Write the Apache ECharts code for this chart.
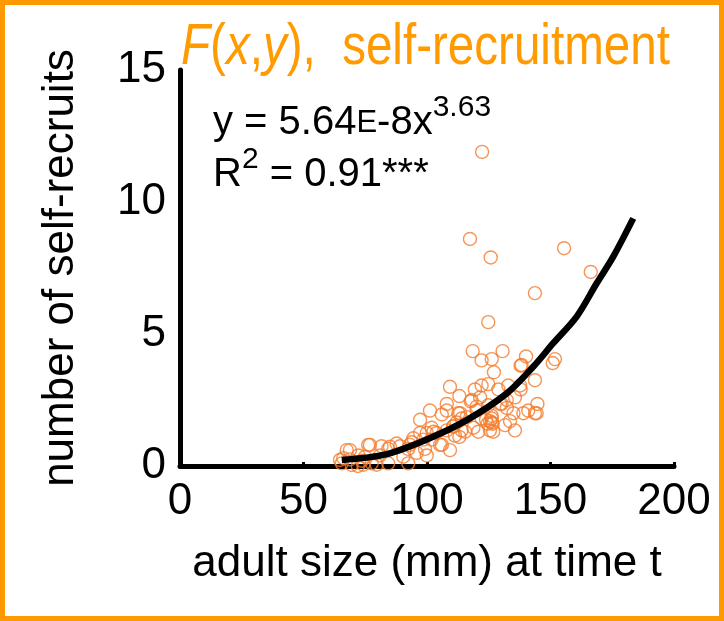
<!DOCTYPE html>
<html>
<head>
<meta charset="utf-8">
<script src="https://cdn.jsdelivr.net/npm/echarts@6/dist/echarts.min.js"></script>
<style>
html,body{margin:0;padding:0;background:#fff;}
#chart{width:724px;height:621px;}
</style>
</head>
<body>
<div id="chart"></div>
<script>
// Data
const xTicks = [0, 50, 100, 150, 200];
const yTicks = [0, 5, 10, 15];
const selfRecruits = [
  [122.3, 11.9], [117.4, 8.6], [125.8, 7.9], [155.5, 8.25], [166.3, 7.35],
  [143.7, 6.55], [124.8, 5.45], [118.5, 4.35], [130.6, 4.35], [122.1, 4.0],
  [126.2, 4.05], [140.1, 4.15], [137.9, 3.8], [151.8, 4.05], [150.9, 3.9],
  [127.1, 3.55], [109.3, 3.0], [119.4, 2.9], [122.1, 3.05], [124.8, 3.1],
  [132.9, 3.05], [143.7, 3.25], [137.9, 2.9], [113.1, 2.65], [121.5, 2.6],
  [117.7, 2.45], [108.0, 2.35], [124.8, 2.3], [132.3, 2.5], [135.6, 2.6],
  [144.7, 2.35], [141.0, 2.1], [143.7, 2.0], [132.3, 2.2], [135.0, 2.0],
  [133.6, 1.7], [135.6, 1.35], [125.5, 1.35], [123.9, 1.75], [126.2, 1.65],
  [101.2, 2.1], [106.0, 1.95], [97.2, 1.75], [113.4, 2.0], [116.1, 1.85],
  [112.0, 1.65], [101.9, 1.45], [108.0, 1.35], [111.3, 1.15], [113.1, 1.1],
  [118.8, 1.45], [97.2, 1.25], [93.8, 0.9], [106.0, 0.8], [109.3, 0.6],
  [99.2, 0.65], [95.8, 0.5], [89.1, 0.75], [87.7, 0.85], [84.3, 0.65],
  [81.6, 0.75], [76.9, 0.8], [68.8, 0.6], [66.1, 0.3], [65.5, 0.1],
  [72.2, 0.4], [74.2, 0.05], [77.6, 0.1], [81.0, 0.4], [84.3, 0.1],
  [92.4, 0.1], [79.6, 0.05], [74.9, 0.35], [93.1, 0.8], [101.9, 1.0],
  [103.9, 1.25], [122.1, 1.8], [120.1, 2.25], [129.6, 2.35], [128.9, 2.9],
  [137.7, 3.05], [114.0, 1.35], [110.7, 1.5], [99.9, 1.25], [68.8, 0.25],
  [73.6, 0.2], [118.1, 2.5], [108.0, 2.1], [112.7, 2.0], [114.0, 1.8],
  [120.1, 2.1], [126.2, 1.9], [110.6, 1.5], [102.6, 1.3], [98.5, 1.0],
  [94.5, 1.05], [92.4, 0.65], [90.4, 0.35], [99.9, 0.4], [105.3, 0.8],
  [115.4, 1.3], [120.8, 1.3], [130.2, 2.35], [144.4, 2.0], [139.0, 2.0],
  [131.6, 1.55], [126.8, 1.3], [126.2, 1.8], [124.5, 1.6], [125.5, 1.7],
  [126.5, 1.6], [64.8, 0.23], [67.5, 0.6], [69.5, 0.04], [72.0, 0.0],
  [76.2, 0.8], [85.0, 0.73], [138.3, 3.83]
];
const fitCurve = [
  [65.5, 0.23], [82.3, 0.42], [99.2, 0.98], [116.1, 1.74], [132.3, 2.75],
  [143.0, 3.76], [151.1, 4.65], [160.6, 5.66], [168.7, 6.92], [175.4, 7.93],
  [183.5, 9.38]
];
const titleText = 'self-recruitment';
const xName = 'adult size (mm) at time t';
const yName = 'number of self-recruits';

const chart = echarts.init(document.getElementById('chart'), null, {renderer: 'canvas'});
const font = 'Liberation Sans, Arial, sans-serif';
const orange = '#FF9A00';
chart.setOption({
  animation: false,
  backgroundColor: '#fff',
  grid: {left: 180, right: 50, top: 70, bottom: 155, containLabel: false},
  xAxis: {
    type: 'value', min: xTicks[0], max: xTicks[xTicks.length - 1], interval: 50,
    name: xName, nameLocation: 'middle', nameGap: 76,
    nameTextStyle: {fontFamily: font, fontSize: 44, color: '#000'},
    axisLine: {lineStyle: {color: '#000', width: 5}},
    axisTick: {show: true, inside: true, length: 4, lineStyle: {color: '#000', width: 3}},
    axisLabel: {fontFamily: font, fontSize: 44, color: '#000', margin: 14},
    splitLine: {show: false}
  },
  yAxis: {
    type: 'value', min: yTicks[0], max: yTicks[yTicks.length - 1], interval: 5,
    name: yName, nameLocation: 'middle', nameGap: 97, nameRotate: 90,
    nameTextStyle: {fontFamily: font, fontSize: 44, color: '#000'},
    axisLine: {lineStyle: {color: '#000', width: 5}},
    axisTick: {show: true, inside: true, length: 3, lineStyle: {color: '#000', width: 2}},
    axisLabel: {fontFamily: font, fontSize: 44, color: '#000', margin: 14},
    splitLine: {show: false}
  },
  graphic: [
    {
      type: 'rect', silent: true, z: 100,
      shape: {x: 2.5, y: 2.5, width: 719, height: 616},
      style: {fill: 'none', stroke: '#FF9900', lineWidth: 5}
    },
    {
      type: 'text', x: 181, y: 19, scaleX: 0.82, z: 100, silent: true,
      style: {
        text: '{i|F}{n|(}{i|x}{n|,}{i|y}{n|),  ' + titleText + '}',
        verticalAlign: 'top',
        fill: orange,
        rich: {
          i: {fontFamily: font, fontStyle: 'italic', fontSize: 58, fill: orange},
          n: {fontFamily: font, fontSize: 58, fill: orange}
        }
      }
    },
    {
      type: 'text', left: 213, top: 91, z: 100, silent: true,
      style: {
        text: '{n|y = 5.64}{s|E}{n|-8x}{p|3.63}\n{n|R}{p|2}{n| = 0.91***}',
        rich: {
          n: {fontFamily: font, fontSize: 40, fill: '#000', lineHeight: 52, verticalAlign: 'bottom'},
          s: {fontFamily: font, fontSize: 31, fill: '#000', lineHeight: 52, verticalAlign: 'bottom', padding: [0, 0, 4, 0]},
          p: {fontFamily: font, fontSize: 30, fill: '#000', lineHeight: 52, verticalAlign: 'top', padding: [2, 0, 0, 0]}
        }
      }
    }
  ],
  series: [
    {
      type: 'scatter', data: selfRecruits, symbol: 'circle', symbolSize: 13,
      itemStyle: {color: 'rgba(0,0,0,0)', borderColor: '#F47A2C', borderWidth: 1.4},
      z: 2
    },
    {
      type: 'line', data: fitCurve, showSymbol: false, smooth: 0.3,
      lineStyle: {color: '#000', width: 6.5}, z: 3
    }
  ]
});
</script>
</body>
</html>
